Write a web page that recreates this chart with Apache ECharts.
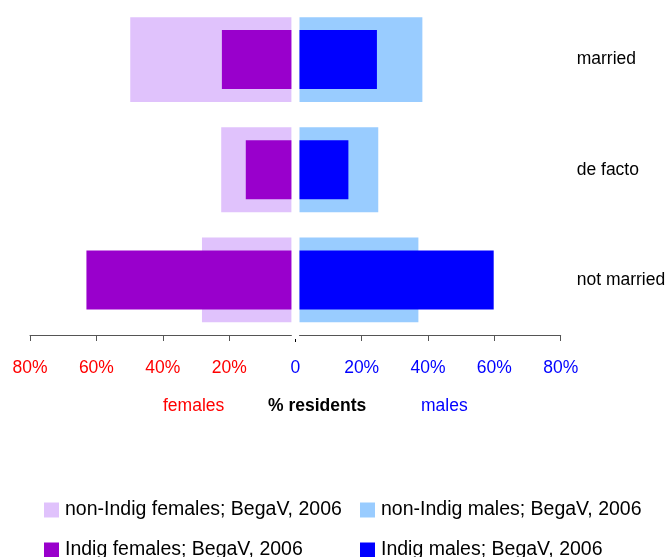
<!DOCTYPE html>
<html>
<head>
<meta charset="utf-8">
<script src="https://cdn.jsdelivr.net/npm/echarts@6/dist/echarts.min.js"></script>
<style>html,body{margin:0;padding:0;background:#fff}#c{width:668px;height:557px}</style>
</head>
<body>
<div id="c"></div>
<script>
const categories = ['married', 'de facto', 'not married'];
const nonIndigFemales = [49.8, 22.4, 28.2];
const indigFemales = [22.2, 15.0, 63.0];
const nonIndigMales = [38.3, 25.0, 37.1];
const indigMales = [24.6, 16.0, 59.8];
const tickValues = [20, 40, 60, 80];
const zeroTick = [0];
const seriesNames = ['non-Indig females; BegaV, 2006', 'Indig females; BegaV, 2006',
                     'non-Indig males; BegaV, 2006', 'Indig males; BegaV, 2006'];

const FONT = "'Liberation Sans', Arial, sans-serif";
const GAP = 1.26;
const axisColor = '#555';
const LBL = 17.5;

const chart = echarts.init(document.getElementById('c'), null, {renderer: 'canvas'});

function hiddenCat(grid, pos) {
  return {type: 'category', gridIndex: grid, data: categories, inverse: true, position: pos,
    axisLine: {show: false}, axisTick: {show: false}, axisLabel: {show: false}, splitLine: {show: false}};
}
function legendItem(name, left, top) {
  return {data: [name], orient: 'horizontal', left: left, top: top, padding: 0,
    itemWidth: 15, itemHeight: 15, itemGap: 0, icon: 'rect',
    textStyle: {fontSize: 19.5, color: '#000', fontFamily: FONT, padding: [0, 0, 0, 1]}};
}

const option = {
  animation: false,
  backgroundColor: '#fff',
  textStyle: {fontFamily: FONT},
  title: [
    {text: 'females', left: 163, top: 397, padding: 0,
     textStyle: {color: '#ff0000', fontSize: LBL, fontWeight: 'normal', fontFamily: FONT}},
    {text: '% residents', left: 268, top: 397, padding: 0,
     textStyle: {color: '#000', fontSize: LBL, fontWeight: 'bold', fontFamily: FONT}},
    {text: 'males', left: 421, top: 397, padding: 0,
     textStyle: {color: '#0000ff', fontSize: LBL, fontWeight: 'normal', fontFamily: FONT}}
  ],
  legend: [
    legendItem(seriesNames[0], 44, 500),
    legendItem(seriesNames[1], 44, 540),
    legendItem(seriesNames[2], 360, 500),
    legendItem(seriesNames[3], 360, 540)
  ],
  grid: [
    {left: 30, width: 261.4, top: 4.5, height: 330.5, outerBoundsMode: 'none', containLabel: false},
    {left: 299.5, width: 261.2, top: 4.5, height: 330.5, outerBoundsMode: 'none', containLabel: false},
    {left: 289.7, width: 11.2, top: 4.5, height: 334.5, outerBoundsMode: 'none', containLabel: false}
  ],
  xAxis: [
    {type: 'value', gridIndex: 0, inverse: true, min: GAP, max: 80, position: 'bottom',
     axisLine: {show: true, lineStyle: {color: axisColor, width: 1}},
     axisTick: {show: true, customValues: tickValues, length: 6, lineStyle: {color: axisColor}},
     axisLabel: {customValues: tickValues, formatter: v => v + '%', color: '#ff0000', fontSize: LBL, margin: 24, fontFamily: FONT},
     splitLine: {show: false}},
    {type: 'value', gridIndex: 1, min: GAP, max: 80, position: 'bottom',
     axisLine: {show: true, lineStyle: {color: axisColor, width: 1}},
     axisTick: {show: true, customValues: tickValues, length: 6, lineStyle: {color: axisColor}},
     axisLabel: {customValues: tickValues, formatter: v => v + '%', color: '#0000ff', fontSize: LBL, margin: 24, fontFamily: FONT},
     splitLine: {show: false}},
    {type: 'value', gridIndex: 2, min: -1.6, max: 1.6, position: 'bottom',
     axisLine: {show: false},
     axisTick: {show: true, customValues: zeroTick, length: 3, lineStyle: {color: '#000'}},
     axisLabel: {customValues: zeroTick, formatter: v => String(v), color: '#0000ff', fontSize: LBL, margin: 20, fontFamily: FONT},
     splitLine: {show: false}}
  ],
  yAxis: [
    hiddenCat(0, 'left'),
    hiddenCat(0, 'right'),
    {type: 'category', gridIndex: 1, data: categories, inverse: true, position: 'right',
     axisLine: {show: false}, axisTick: {show: false},
     axisLabel: {show: true, margin: 16, color: '#000', fontSize: LBL, fontFamily: FONT, align: 'left'},
     splitLine: {show: false}},
    hiddenCat(1, 'left'),
    hiddenCat(2, 'left')
  ],
  series: [
    {name: seriesNames[0], type: 'bar', xAxisIndex: 0, yAxisIndex: 0, data: nonIndigFemales,
     barWidth: '77%', clip: true, itemStyle: {color: '#e0c2fc'}},
    {name: seriesNames[1], type: 'bar', xAxisIndex: 0, yAxisIndex: 1, data: indigFemales,
     barWidth: '53.6%', clip: true, itemStyle: {color: '#9900cc'}},
    {name: seriesNames[2], type: 'bar', xAxisIndex: 1, yAxisIndex: 2, data: nonIndigMales,
     barWidth: '77%', clip: true, itemStyle: {color: '#99ccff'}},
    {name: seriesNames[3], type: 'bar', xAxisIndex: 1, yAxisIndex: 3, data: indigMales,
     barWidth: '53.6%', clip: true, itemStyle: {color: '#0000ff'}}
  ]
};
chart.setOption(option);
</script>
</body>
</html>
